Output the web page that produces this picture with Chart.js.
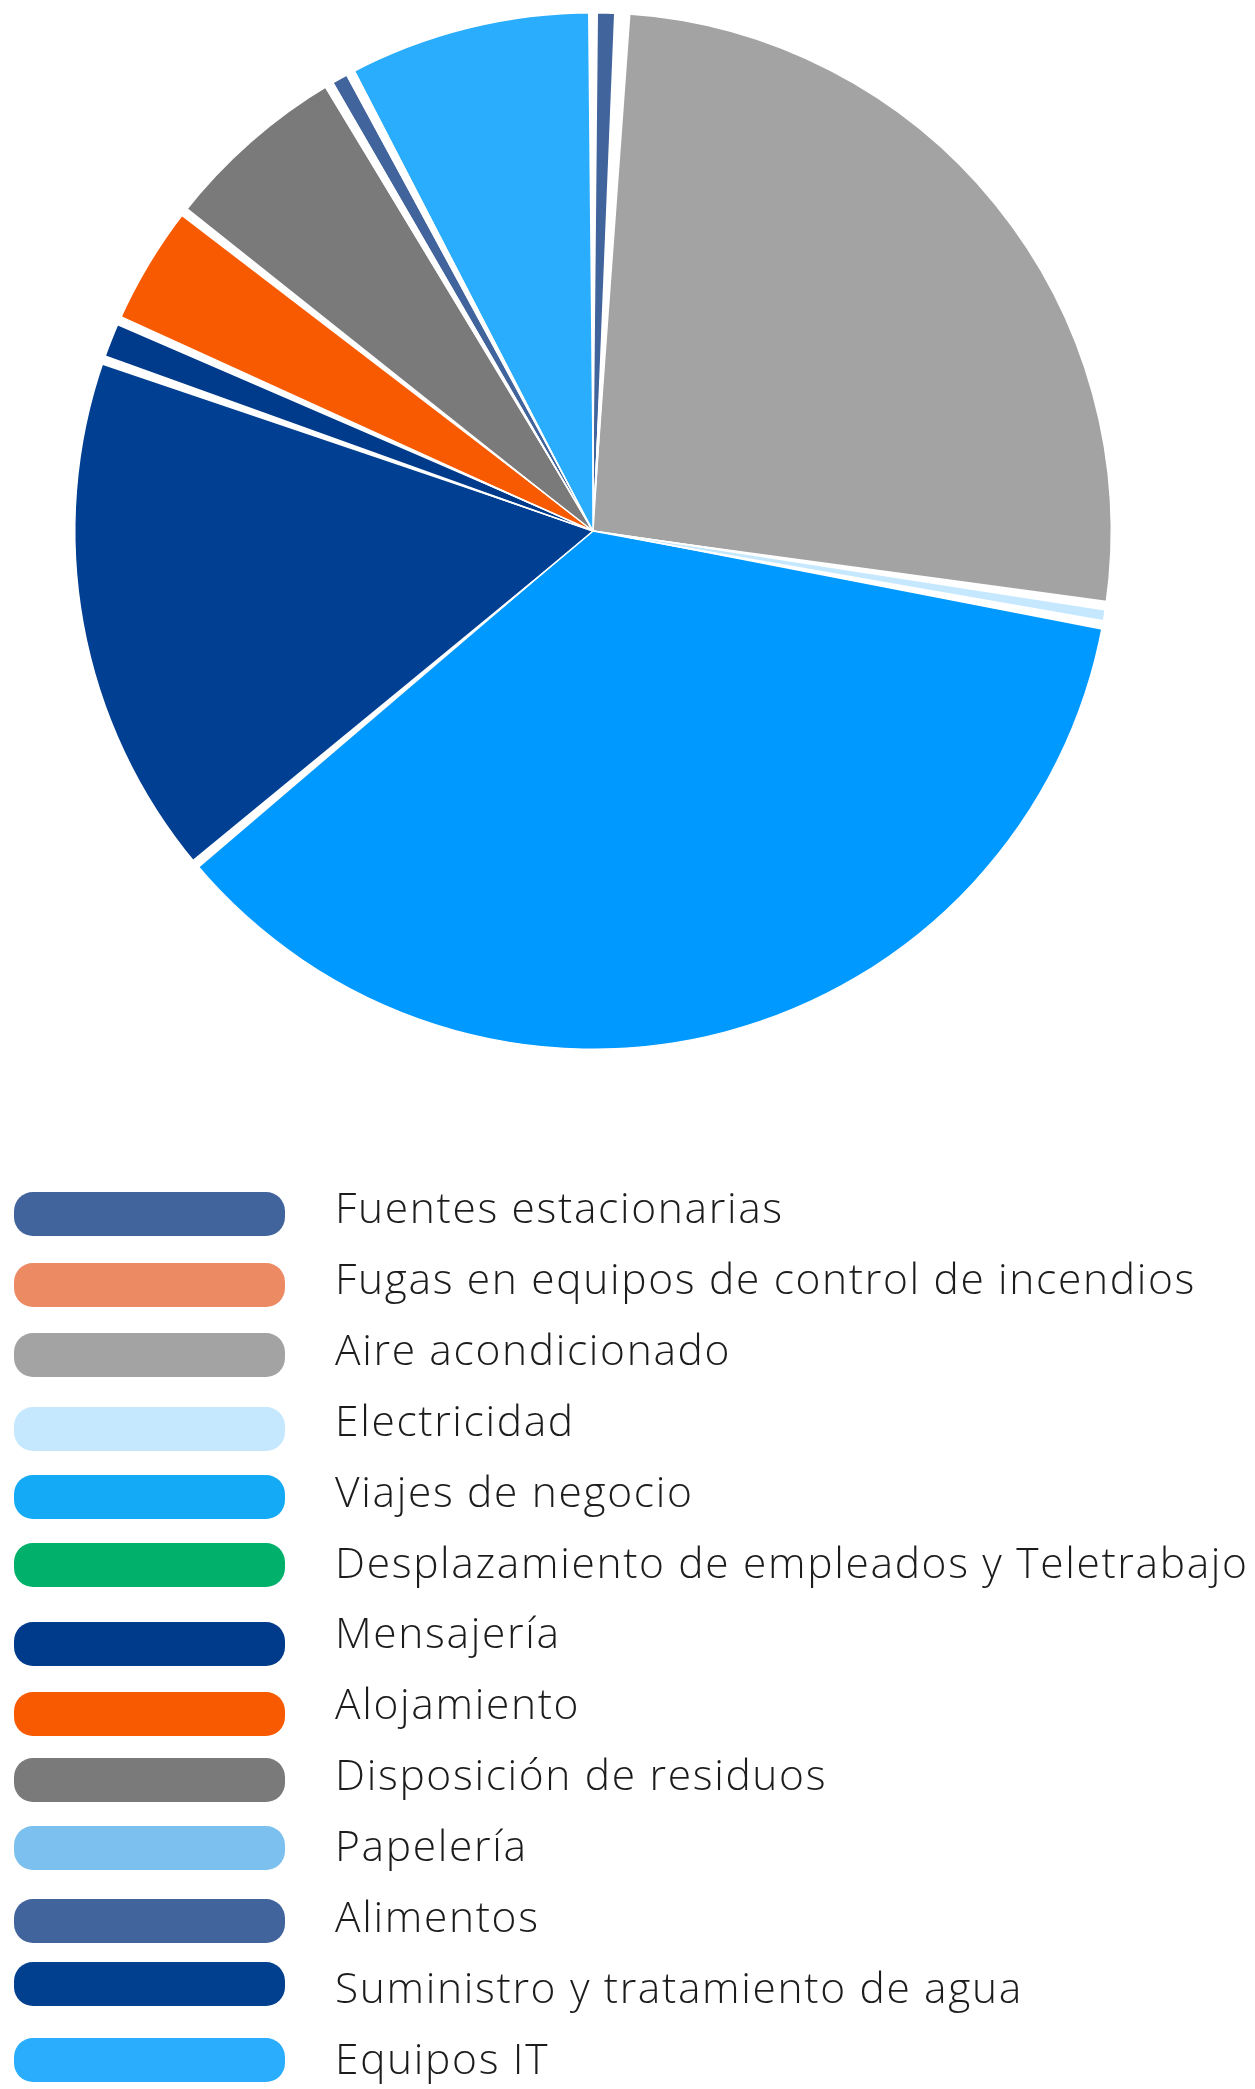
<!DOCTYPE html>
<html lang="es">
<head>
<meta charset="utf-8">
<title>Distribución de emisiones</title>
<script src="https://cdn.jsdelivr.net/npm/chart.js@4.4.1/dist/chart.umd.min.js"></script>
<style>
  html, body { margin: 0; padding: 0; background: #ffffff; }
  #wrap { position: relative; width: 1255px; height: 2089px; }
</style>
</head>
<body>
<div id="wrap"><canvas id="chart"></canvas></div>
<script>
// Categorías de emisión
const categories = [
  'Fuentes estacionarias',
  'Fugas en equipos de control de incendios',
  'Aire acondicionado',
  'Electricidad',
  'Viajes de negocio',
  'Desplazamiento de empleados y Teletrabajo',
  'Mensajería',
  'Alojamiento',
  'Disposición de residuos',
  'Papelería',
  'Alimentos',
  'Suministro y tratamiento de agua',
  'Equipos IT'
];

// Porcentaje de cada categoría
const values = [0.8, 0.2, 26.3, 0.6, 36.0, 16.45, 1.3, 3.9, 5.95, 0, 0.75, 0, 7.75];

// Colores de los sectores
const sliceColors = [
  '#41649c', '#eb8a63', '#a3a3a3', '#c5e8ff', '#0099ff', '#003f91', '#003a8a',
  '#f75a00', '#7a7a7a', '#7bc0ee', '#41649c', '#00408f', '#29adfc'
];

// Colores de la leyenda
const legendColors = [
  '#41649c', '#eb8a63', '#a3a3a3', '#c5e8ff', '#14aaf5', '#00b06b', '#003a8a',
  '#f75a00', '#7a7a7a', '#7bc0ee', '#41649c', '#00408f', '#29adfc'
];

// Separaciones en cuña entre sectores
const sliceGaps = {
  id: 'sliceGaps',
  afterDatasetsDraw(chart) {
    const meta = chart.getDatasetMeta(0);
    const ctx = chart.ctx;
    const gapPx = 10;
    ctx.save();
    ctx.fillStyle = '#ffffff';
    meta.data.forEach((arc) => {
      const { x, y, startAngle, outerRadius } = arc.getProps(['x', 'y', 'startAngle', 'outerRadius'], true);
      const d = (gapPx / 2) / outerRadius;
      ctx.beginPath();
      ctx.moveTo(x, y);
      ctx.arc(x, y, outerRadius + 4, startAngle - d, startAngle + d);
      ctx.closePath();
      ctx.fill();
    });
    ctx.restore();
  }
};

// Leyenda en columna bajo el gráfico
const columnLegend = {
  id: 'columnLegend',
  afterDraw(chart) {
    const ctx = chart.ctx;
    const boxTops = [1192, 1263, 1333, 1407, 1475, 1543, 1622, 1692, 1758, 1826, 1899, 1962, 2038];
    const boxX = 14, boxW = 271, boxH = 44, radius = 19;
    const textX = 335, firstBaseline = 1223, lineStep = 70.9;
    const font = '300 42.5px "Open Sans"';
    ctx.save();
    ctx.font = font;
    // ajuste del espaciado para que la línea más larga ocupe su ancho
    ctx.letterSpacing = '0px';
    const longest = categories.reduce((a, b) => (ctx.measureText(b).width > ctx.measureText(a).width ? b : a));
    const w0 = ctx.measureText(longest).width;
    const ls = (912 - w0) / (longest.length - 1);
    categories.forEach((label, i) => {
      ctx.fillStyle = legendColors[i];
      ctx.beginPath();
      ctx.roundRect(boxX, boxTops[i], boxW, boxH, radius);
      ctx.fill();
      ctx.fillStyle = '#1c1c1c';
      ctx.font = font;
      ctx.letterSpacing = ls.toFixed(2) + 'px';
      ctx.textBaseline = 'alphabetic';
      ctx.textAlign = 'left';
      ctx.fillText(label, textX, firstBaseline + lineStep * i);
    });
    ctx.restore();
  }
};

new Chart(document.getElementById('chart'), {
  type: 'pie',
  data: {
    labels: categories,
    datasets: [{
      data: values,
      backgroundColor: sliceColors,
      borderColor: '#ffffff',
      borderWidth: 1.5
    }]
  },
  options: {
    responsive: true,
    maintainAspectRatio: false,
    animation: false,
    layout: { padding: { left: 74, right: 143, top: 12, bottom: 1039 } },
    plugins: {
      legend: { display: false },
      tooltip: { enabled: false }
    }
  },
  plugins: [sliceGaps, columnLegend]
});
</script>
</body>
</html>
